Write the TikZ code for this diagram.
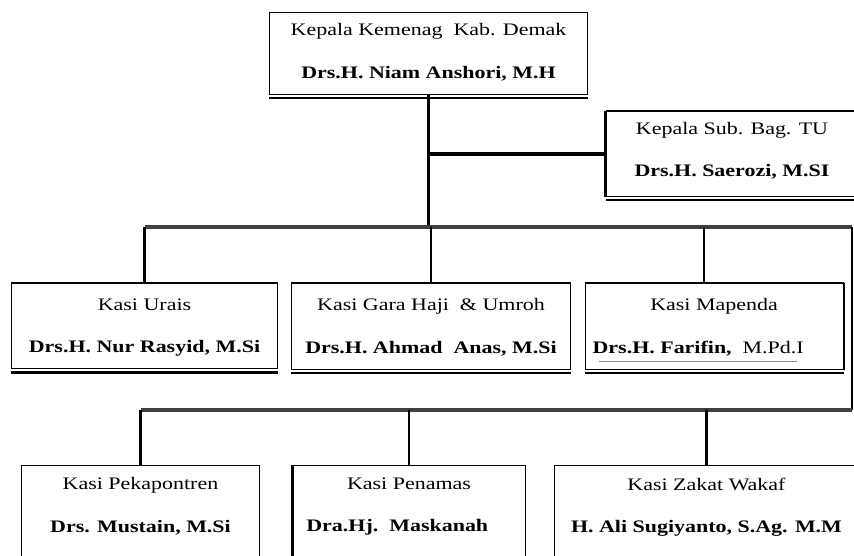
\documentclass[tikz,border=0pt]{standalone}
\usepackage{fontspec}
\setmainfont{Liberation Serif}[FakeStretch=1.25]
\usepackage{xcolor}
\usepackage{tikz}
\usetikzlibrary{positioning}

\definecolor{abubar}{HTML}{404040}
\definecolor{abugaris}{HTML}{8C8C8C}

\tikzset{
    jabatan/.style={
        draw,
        line width=0.85pt,
        anchor=north,
        align=center,
        inner xsep=0pt,
        font=\fontsize{15pt}{36pt}\selectfont
    },
    bawah/.style={line width=2.1pt},
    hubung/.style={line width=2.1pt},
    bar/.style={line width=2.8pt, draw=abubar},
}

\begin{document}
\begin{tikzpicture}[x=0.03cm,y=-0.03cm]
                \clip (0,0) rectangle (854,556);

                % pimpinan
                \node[
                    jabatan,
                    minimum width=9.51cm,
                    inner ysep=9.6pt,
                    text depth=4pt
                    ] (kepala) at (428.5,12) {Kepala Kemenag\ \ Kab. Demak\\\textbf{Drs.H. Niam Anshori,\ M.H}};

                \node[
                    jabatan,
                    minimum width=7.56cm,
                    inner ysep=8.8pt,
                    text depth=8.2pt
                    ] (tu) at (732,111) {Kepala Sub. Bag. TU\\\textbf{Drs.H. Saerozi, M.SI}};

                % baris kedua
                \node[
                    jabatan,
                    minimum width=7.95cm,
                    inner ysep=13pt,
                    text depth=0.6pt
                    ] (urais) at (144.5,283) {Kasi Urais\\\textbf{Drs.H. Nur Rasyid, M.Si}};

                \node[
                    jabatan,
                    minimum width=8.34cm,
                    inner ysep=13pt,
                    text depth=0.6pt
                    ] (haji) at (431,283) {Kasi Gara Haji\ \ \&\ Umroh\\\textbf{Drs.H. Ahmad\ \ Anas, M.Si}};

                \node[
                    jabatan,
                    minimum width=7.74cm,
                    inner ysep=13pt,
                    text depth=0.6pt
                    ] (mapenda) at (714,283) {Kasi Mapenda\\\textbf{Drs.H. Farifin,}\ \ M.Pd.I\hspace*{27pt}};

                % baris ketiga
                \node[
                    jabatan,
                    minimum width=7.11cm,
                    inner ysep=10.4pt,
                    text depth=80pt
                    ] (pekapontren) at (140.5,465) {Kasi Pekapontren\\\textbf{Drs. Mustain, M.Si}};

                \node[
                    jabatan,
                    minimum width=6.96cm,
                    inner ysep=10.4pt,
                    text depth=80pt
                    ] (penamas) at (409,465) {Kasi Penamas\\\textbf{Dra.Hj.\ \ Maskanah}\hspace*{20pt}};

                \node[
                    jabatan,
                    minimum width=9.09cm,
                    inner ysep=10.4pt,
                    text depth=80pt
                    ] (zakat) at (706.5,465) {Kasi Zakat Wakaf\\\textbf{H. Ali Sugiyanto, S.Ag. M.M}};

                % garis bawah rangkap dan tepi tebal
                \foreach \n in {kepala,tu,urais,haji,mapenda}
                    \draw[bawah] ([yshift=-3pt]\n.south west) -- ([yshift=-3pt]\n.south east);
                \foreach \n in {urais,haji,mapenda}
                    \draw[line width=1.7pt] (\n.north west) -- (\n.north east);
                \draw[line width=3.4pt] (tu.north west) -- (tu.south west);
                \draw[line width=1.7pt] (tu.north west) -- (tu.north east);
                \draw[line width=1.7pt] (mapenda.north east) -- (mapenda.south east);
                \draw[line width=2.6pt] (penamas.north west) -- (penamas.south west);
                \draw[
                    abugaris,
                    line width=1pt
                    ] ([shift={(14,-8)}]mapenda.south west) -- ([shift={(212,-8)}]mapenda.south west);

                % garis penghubung
                \coordinate (simpang1) at (852,227);
                \coordinate (simpang2) at (852,410);

                \draw[hubung] (kepala.south) -- (kepala.south |- simpang1);
                \draw[line width=3.4pt] (kepala.south |- tu.west) -- (tu.west);

                \draw[bar] (urais.north |- simpang1) -- (simpang1);
                \draw[hubung] (simpang1) -- (simpang2);
                \draw[bar] (simpang2) -- (pekapontren.north |- simpang2);

                \draw[hubung] (urais.north |- simpang1) -- (urais.north);
                \draw[hubung] (haji.north |- simpang1) -- (haji.north);
                \draw[hubung] ([xshift=-0.3cm]mapenda.north |- simpang1) -- ([xshift=-0.3cm]mapenda.north);

                \draw[hubung] (pekapontren.north |- simpang2) -- (pekapontren.north);
                \draw[hubung] (penamas.north |- simpang2) -- (penamas.north);
                \draw[hubung] (zakat.north |- simpang2) -- (zakat.north);

            \end{tikzpicture}
\end{document}
